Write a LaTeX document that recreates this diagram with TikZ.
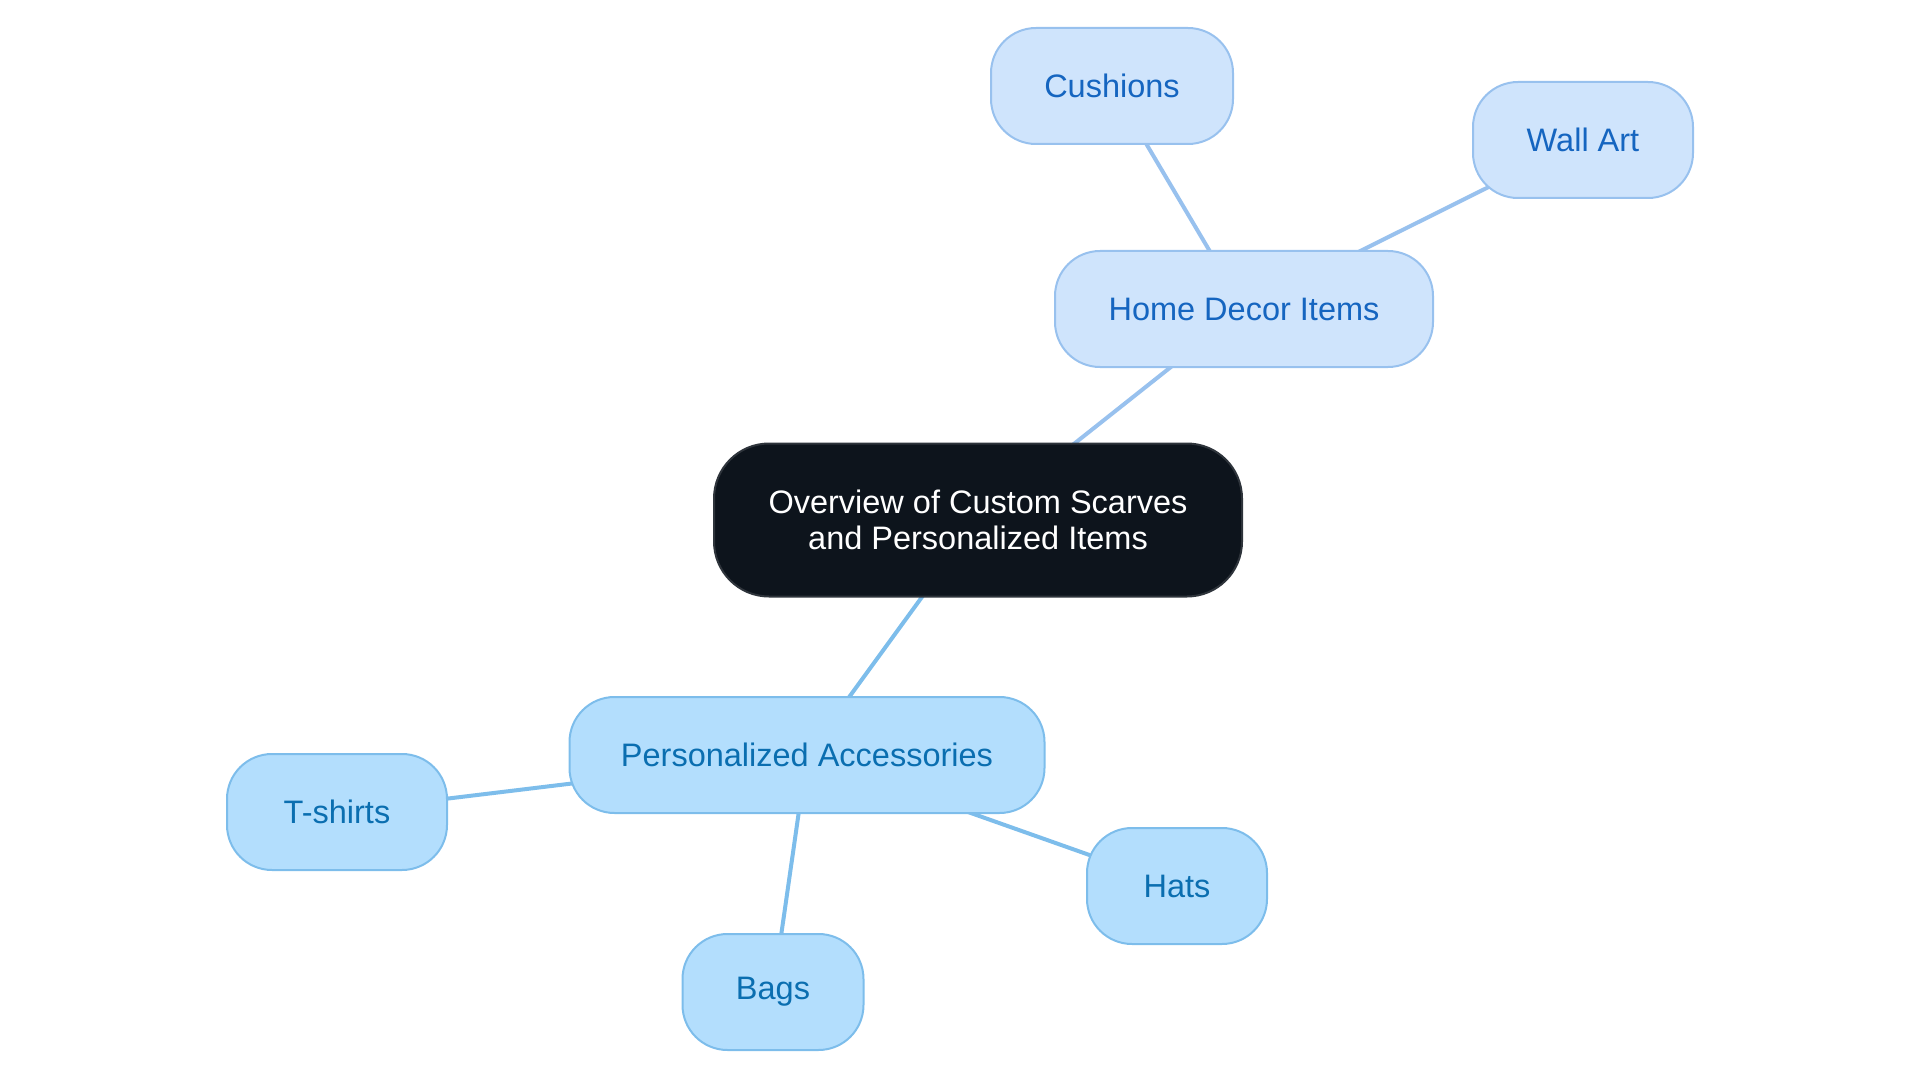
\documentclass[tikz,border=0pt]{standalone}
\usepackage{fontspec}
\setmainfont{Liberation Sans}
\usetikzlibrary{backgrounds}
\definecolor{rootfill}{HTML}{0D141C}
\definecolor{rootdraw}{HTML}{2E343B}
\definecolor{hdfill}{HTML}{CFE4FC}
\definecolor{hddraw}{HTML}{98C1EE}
\definecolor{hdtext}{HTML}{1565C0}
\definecolor{pafill}{HTML}{B3DEFD}
\definecolor{padraw}{HTML}{7DBDEB}
\definecolor{patext}{HTML}{0A6EB0}
\tikzset{
  rootbox/.style={draw=rootdraw, fill=rootfill, line width=2pt, rounded corners=55pt,
    minimum width=528pt, minimum height=153pt, text=white, align=center,
    font=\fontsize{32.5}{36}\selectfont},
  hdbox/.style={draw=hddraw, fill=hdfill, line width=2pt, rounded corners=45pt,
    minimum height=116pt, text=hdtext, font=\fontsize{32.5}{36}\selectfont},
  pabox/.style={draw=padraw, fill=pafill, line width=2pt, rounded corners=45pt,
    minimum height=116pt, text=patext, font=\fontsize{32.5}{36}\selectfont},
  hdline/.style={draw=hddraw, line width=4pt},
  paline/.style={draw=padraw, line width=4pt}
}
\begin{document}
\begin{tikzpicture}[x=1pt,y=-1pt]
\useasboundingbox (0,0) rectangle (1920,1083);
\node[rootbox] (root) at (978,520) {Overview of Custom Scarves\\and Personalized Items};
\node[hdbox, minimum width=378pt] (home) at (1244,309) {Home Decor Items};
\node[hdbox, minimum width=242pt] (cush) at (1112,86) {Cushions};
\node[hdbox, minimum width=220pt] (wall) at (1583,140) {Wall Art};
\node[pabox, minimum width=475pt] (acc) at (807,755) {Personalized Accessories};
\node[pabox, minimum width=220pt] (tsh) at (337,812) {T-shirts};
\node[pabox, minimum width=180pt] (hats) at (1177,886) {Hats};
\node[pabox, minimum width=181pt] (bags) at (773,992) {Bags};
\begin{scope}[on background layer]
\draw[hdline] (root.center) -- (home.center);
\draw[hdline] (home.center) -- (cush.center);
\draw[hdline] (home.center) -- (wall.center);
\draw[paline] (root.center) -- (acc.center);
\draw[paline] (acc.center) -- (tsh.center);
\draw[paline] (acc.center) -- (hats.center);
\draw[paline] (acc.center) -- (bags.center);
\end{scope}
\end{tikzpicture}
\end{document}
